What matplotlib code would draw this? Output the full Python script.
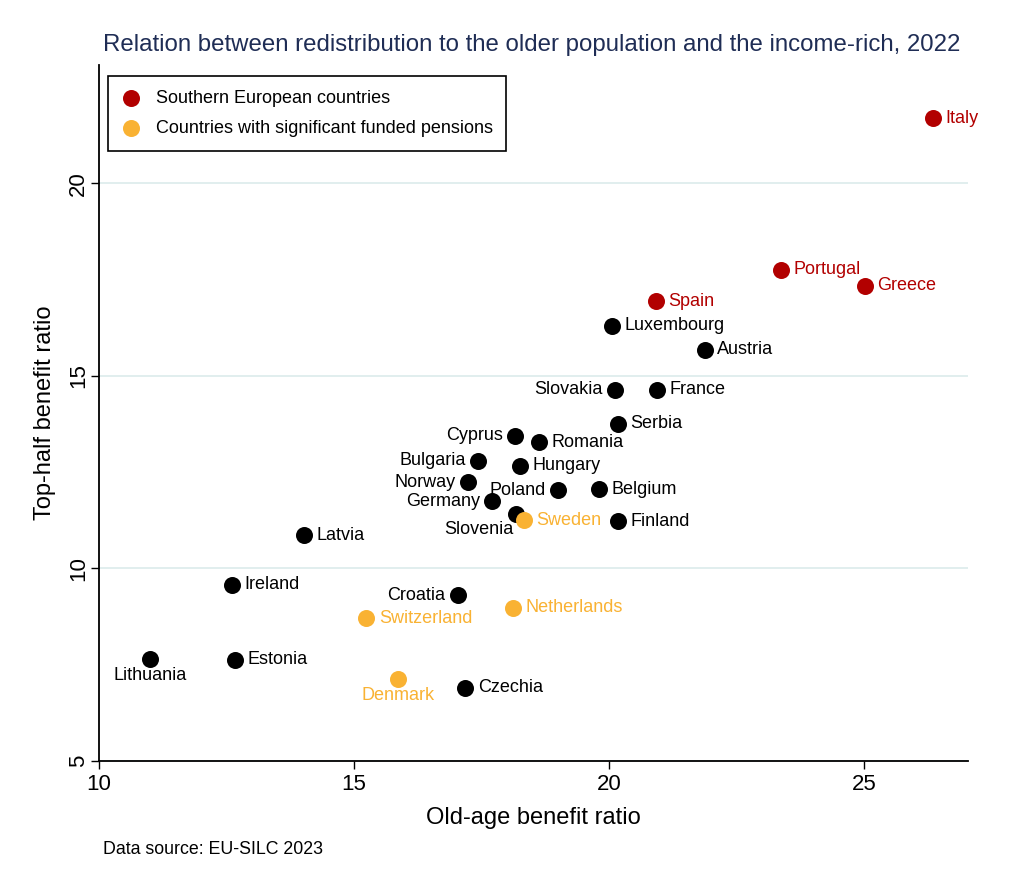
import matplotlib
matplotlib.use("Agg")
import matplotlib.pyplot as plt

plt.rcParams['font.family'] = ['Liberation Sans', 'DejaVu Sans']

countries = ["Italy", "Portugal", "Greece", "Spain", "Luxembourg", "Austria", "Slovakia",
             "France", "Serbia", "Cyprus", "Romania", "Bulgaria", "Hungary", "Norway",
             "Poland", "Belgium", "Germany", "Slovenia", "Sweden", "Finland", "Latvia",
             "Ireland", "Croatia", "Netherlands", "Switzerland", "Lithuania", "Estonia",
             "Denmark", "Czechia"]
old_age = [26.35, 23.37, 25.02, 20.92, 20.06, 21.88, 20.12,
           20.94, 20.18, 18.16, 18.63, 17.43, 18.25, 17.24,
           19.00, 19.80, 17.71, 18.18, 18.33, 20.18, 14.02,
           12.61, 17.04, 18.12, 15.24, 11.00, 12.67,
           15.86, 17.18]
top_half = [21.69, 17.76, 17.34, 16.93, 16.30, 15.68, 14.64,
            14.64, 13.75, 13.44, 13.28, 12.79, 12.66, 12.24,
            12.03, 12.06, 11.74, 11.41, 11.25, 11.22, 10.86,
            9.58, 9.30, 8.98, 8.70, 7.66, 7.63,
            7.14, 6.90]
groups = ["south", "south", "south", "south", "other", "other", "other",
          "other", "other", "other", "other", "other", "other", "other",
          "other", "other", "other", "other", "funded", "other", "other",
          "other", "other", "funded", "funded", "other", "other",
          "funded", "other"]
# label position (clock style)
label_pos = {"Slovakia": 9, "Cyprus": 9, "Bulgaria": 9, "Norway": 9, "Germany": 9,
             "Croatia": 9, "Poland": 9, "Lithuania": 6, "Denmark": 6, "Slovenia": 7}

colors = {"south": "#B20000", "funded": "#F9B233", "other": "#000000"}
legend_labels = {"south": "Southern European countries",
                 "funded": "Countries with significant funded pensions"}

fig = plt.figure(figsize=(10.24, 8.9), dpi=100)
ax = fig.add_axes([99/1024, 1-761/890, (968-99)/1024, (761-65)/890])

for g in ["other", "south", "funded"]:
    xs = [x for x, gg in zip(old_age, groups) if gg == g]
    ys = [y for y, gg in zip(top_half, groups) if gg == g]
    ax.scatter(xs, ys, s=150, color=colors[g], zorder=3, linewidths=0,
               label=legend_labels.get(g, "_nolegend_"))

lab_fs = 13
for name, x, y, g in zip(countries, old_age, top_half, groups):
    pos = label_pos.get(name, 3)
    c = colors[g]
    if pos == 3:
        ax.annotate(name, (x, y), xytext=(9, 0), textcoords="offset points",
                    ha="left", va="center", fontsize=lab_fs, color=c)
    elif pos == 9:
        ax.annotate(name, (x, y), xytext=(-9, 0), textcoords="offset points",
                    ha="right", va="center", fontsize=lab_fs, color=c)
    elif pos == 6:
        ax.annotate(name, (x, y), xytext=(0, -6), textcoords="offset points",
                    ha="center", va="top", fontsize=lab_fs, color=c)
    elif pos == 7:
        ax.annotate(name, (x, y), xytext=(-2, -5), textcoords="offset points",
                    ha="right", va="top", fontsize=lab_fs, color=c)

ax.set_xlim(10, 27.04)
ax.set_ylim(5, 23.07)
ax.set_xticks([10, 15, 20, 25])
ax.set_yticks([5, 10, 15, 20])
ax.tick_params(axis="both", labelsize=16, length=6, width=1, color="black")
ax.tick_params(axis="x", pad=3)
ax.tick_params(axis="y", pad=1)
for lab in ax.get_yticklabels():
    lab.set_rotation(90)
    lab.set_va("center")
ax.grid(axis="y", color="#DCEBEB", linewidth=1.2, zorder=0)
ax.set_axisbelow(True)
for s in ["top", "right"]:
    ax.spines[s].set_visible(False)
for s in ["left", "bottom"]:
    ax.spines[s].set_linewidth(1.3)

ax.set_xlabel("Old-age benefit ratio", fontsize=17, labelpad=9)
ax.set_ylabel("Top-half benefit ratio", fontsize=17, labelpad=9)

leg = ax.legend(loc="upper left", bbox_to_anchor=(0.0, 0.997), fontsize=13,
                frameon=True, fancybox=False, edgecolor="black", framealpha=1,
                handletextpad=0.9, borderpad=0.75, labelspacing=0.75, scatterpoints=1,
                handlelength=1.0)
leg.get_frame().set_linewidth(1.2)

fig.text(532/1024, 1-45/890, "Relation between redistribution to the older population and the income-rich, 2022",
         ha="center", va="center", fontsize=17.3, color="#1F2D55")
fig.text(103/1024, 1-850/890, "Data source: EU-SILC 2023", ha="left", va="center", fontsize=12.8)

fig.savefig("out.png", dpi=100)
